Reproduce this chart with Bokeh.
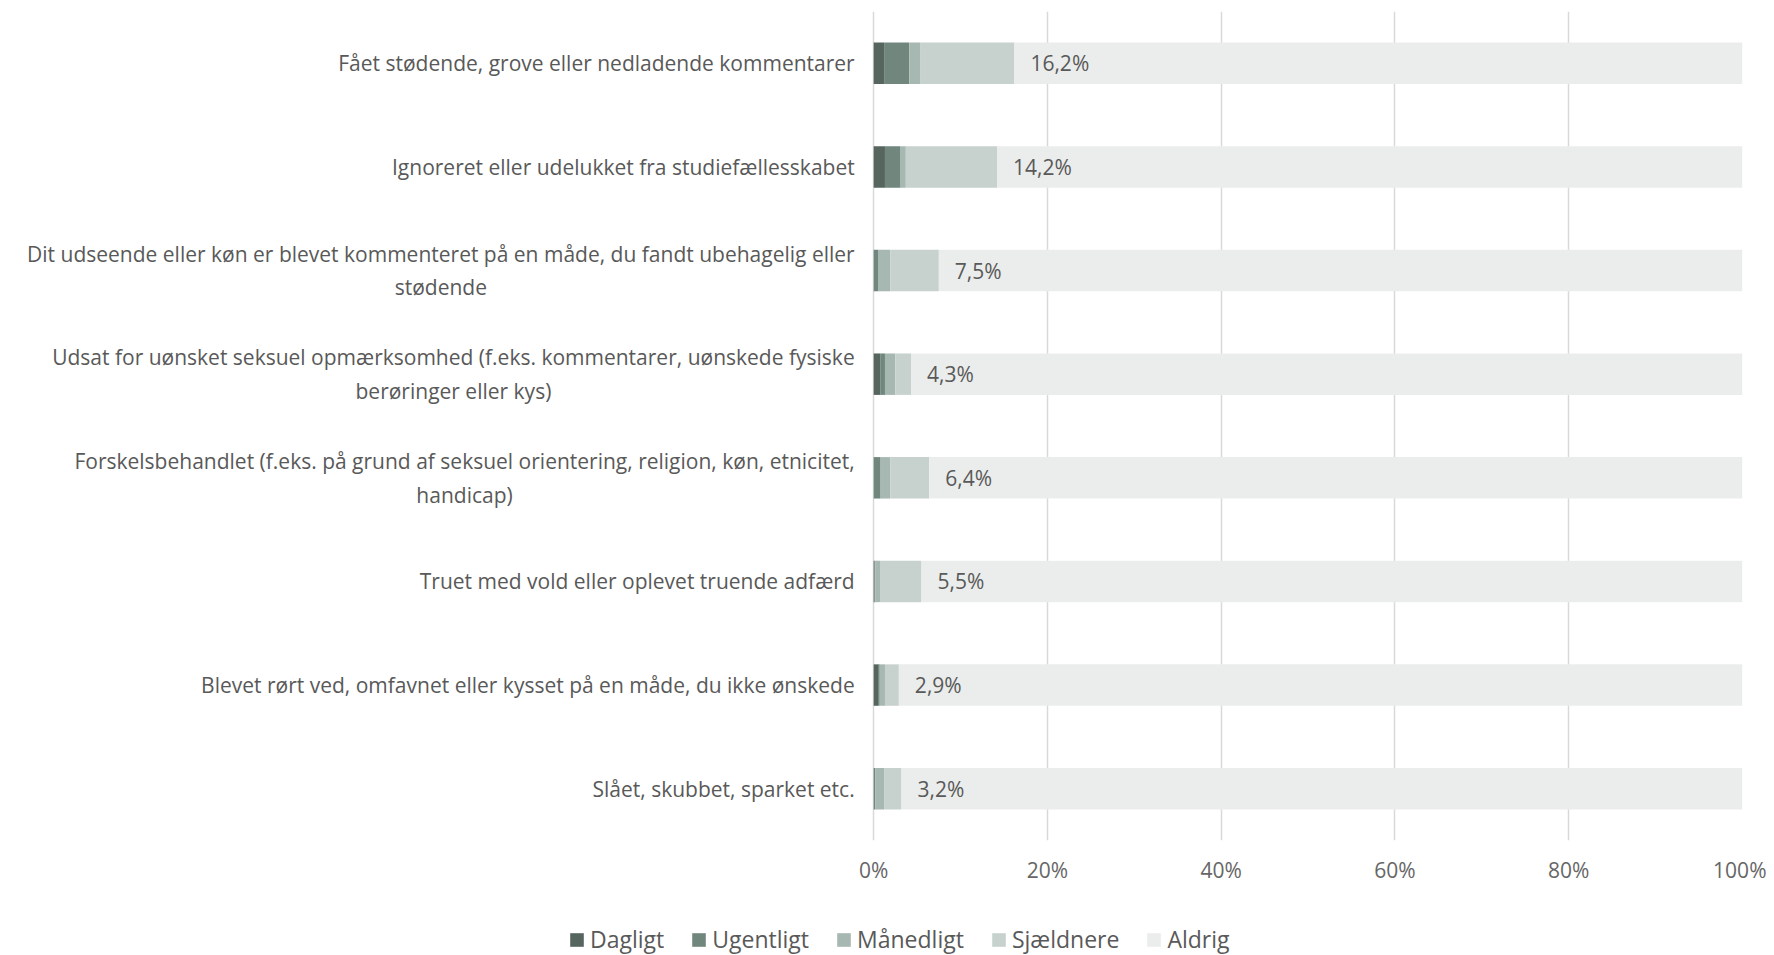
from bokeh.plotting import figure
from bokeh.layouts import column
from bokeh.models import ColumnDataSource, FactorRange, FixedTicker, Legend, LegendItem, Range1d
from bokeh.core.properties import value
from bokeh.embed import file_html
from bokeh.resources import INLINE

categories = [
    "Fået stødende, grove eller nedladende kommentarer",
    "Ignoreret eller udelukket fra studiefællesskabet",
    "Dit udseende eller køn er blevet kommenteret på en måde, du fandt ubehagelig eller\nstødende",
    "Udsat for uønsket seksuel opmærksomhed (f.eks. kommentarer, uønskede fysiske\nberøringer eller kys)",
    "Forskelsbehandlet (f.eks. på grund af seksuel orientering, religion, køn, etnicitet,\nhandicap)",
    "Truet med vold eller oplevet truende adfærd",
    "Blevet rørt ved, omfavnet eller kysset på en måde, du ikke ønskede",
    "Slået, skubbet, sparket etc.",
]
series_names = ["Dagligt", "Ugentligt", "Månedligt", "Sjældnere", "Aldrig"]
dagligt = [1.2, 1.3, 0.0, 0.8, 0.0, 0.1, 0.5, 0.0]
ugentligt = [2.9, 1.8, 0.5, 0.5, 0.8, 0.1, 0.2, 0.2]
maanedligt = [1.3, 0.6, 1.4, 1.2, 1.1, 0.6, 0.6, 1.0]
sjaeldnere = [10.8, 10.5, 5.6, 1.8, 4.5, 4.7, 1.6, 2.0]
x_ticks = [0, 20, 40, 60, 80, 100]
x_tick_labels = ["0%", "20%", "40%", "60%", "80%", "100%"]

colors = ["#56665f", "#71877e", "#a7b8b2", "#c7d2ce", "#ebedec"]
FONT = "Open Sans"
TEXT_COLOR = "#595959"

totals = [round(a + b + c + d, 1) for a, b, c, d in zip(dagligt, ugentligt, maanedligt, sjaeldnere)]
aldrig = [round(100 - t, 1) for t in totals]
total_labels = [f"{t:.1f}".replace(".", ",") + "%" for t in totals]
zeros = [0] * len(categories)

keys = ["dagligt", "ugentligt", "maanedligt", "sjaeldnere", "aldrig"]
source = ColumnDataSource(dict(
    cat=categories, zero=zeros,
    dagligt=dagligt, ugentligt=ugentligt, maanedligt=maanedligt,
    sjaeldnere=sjaeldnere, aldrig=aldrig,
    total=totals, total_label=total_labels,
))

W = 1766
p = figure(
    width=W, height=895,
    y_range=FactorRange(factors=list(reversed(categories))),
    x_range=Range1d(-100.5, 100),
    output_backend="svg", toolbar_location=None,
    min_border_left=0, min_border_right=24, min_border_top=11, min_border_bottom=55,
)
p.outline_line_color = None

p.hbar_stack(keys, y="cat", height=0.4, color=colors, line_color=None, source=source)

# category labels (right edge next to the 0% line, extra lines centred)
p.text(x="zero", y="cat", text="cat", source=source,
       x_offset=-19, anchor="center_right", text_align="center", text_baseline="middle",
       text_line_height=1.2,
       text_font=value(FONT), text_font_size="21px", text_color=TEXT_COLOR)

# total labels
p.text(x="total", y="cat", text="total_label", source=source,
       x_offset=16, text_align="left", text_baseline="middle",
       text_font=value(FONT), text_font_size="21px", text_color=TEXT_COLOR)

p.xaxis.ticker = FixedTicker(ticks=x_ticks)
p.xaxis.major_label_overrides = {t: l for t, l in zip(x_ticks, x_tick_labels)}
p.xaxis.axis_line_color = None
p.xaxis.major_tick_line_color = None
p.xaxis.minor_tick_line_color = None
p.xaxis.major_label_standoff = 9
p.xaxis.major_label_text_font = FONT
p.xaxis.major_label_text_font_size = "21px"
p.xaxis.major_label_text_color = "#666666"

p.yaxis.visible = False
p.ygrid.grid_line_color = None
p.xgrid.grid_line_color = "#d9d9d9"
p.xgrid.grid_line_width = 1.5
p.xgrid.level = "underlay"

# legend strip (zero-width proxy bars carry the legend swatches)
lf = figure(
    width=W, height=60, x_range=Range1d(0, 1), y_range=Range1d(0, 1),
    output_backend="svg", toolbar_location=None,
    min_border_left=0, min_border_right=0, min_border_top=0, min_border_bottom=0,
)
lf.outline_line_color = None
lf.axis.visible = False
lf.grid.visible = False
legend_renderers = [lf.hbar(y=[0.5], left=[0], right=[0], height=0.4, color=c, line_color=None)
                    for c in colors]
legend = Legend(
    items=[LegendItem(label=n, renderers=[r]) for n, r in zip(series_names, legend_renderers)],
    orientation="horizontal", location=(568, 0),
    label_text_font=FONT, label_text_font_size="23px", label_text_color=TEXT_COLOR,
    glyph_width=17, glyph_height=17, label_standoff=5, spacing=26,
    border_line_color=None, background_fill_alpha=0, margin=0, padding=0,
)
lf.add_layout(legend, "center")

open("out.html", "w").write(file_html(column(p, lf, spacing=0), INLINE))
